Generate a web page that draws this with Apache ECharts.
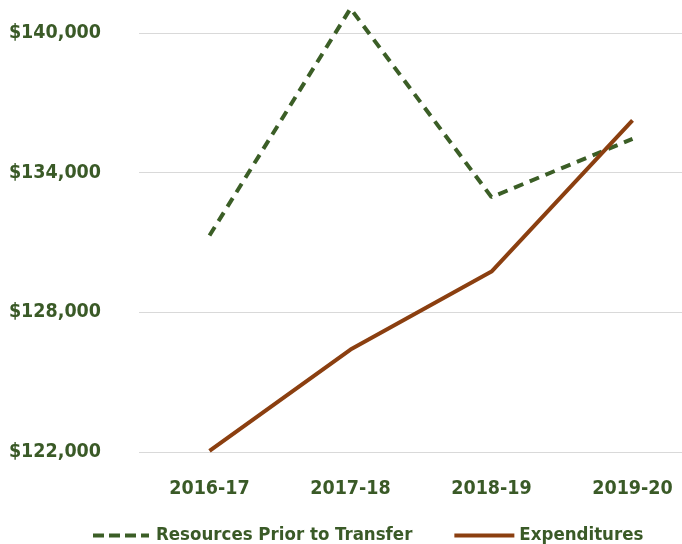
<!DOCTYPE html>
<html>
<head>
<meta charset="utf-8">
<script src="https://cdn.jsdelivr.net/npm/echarts@6/dist/echarts.min.js"></script>
<style>html,body{margin:0;padding:0;background:#fff}#c{width:682px;height:544px}</style>
</head>
<body>
<div id="c"></div>
<script>
const categories = ['2016-17', '2017-18', '2018-19', '2019-20'];
const resources = [131300, 141050, 132950, 135450];
const expenditures = [122050, 126400, 129750, 136250];
const yTicks = [122000, 128000, 134000, 140000];

const FONT = "'Liberation Sans Narrow', 'DejaVu Sans Condensed', sans-serif";
const TXT = '#3A5A27';
const chart = echarts.init(document.getElementById('c'));
chart.setOption({
  animation: false,
  backgroundColor: '#fff',
  grid: { left: 139, width: 564, top: 33, bottom: 92, outerBoundsMode: 'none', containLabel: false },
  legend: {
    top: 521,
    left: 88,
    itemWidth: 60,
    itemHeight: 4,
    itemGap: 42,
    textStyle: { fontFamily: FONT, fontWeight: 'bold', fontSize: 18.5, color: TXT },
    data: [
      { name: 'Resources Prior to Transfer', icon: 'path://M0,0 L11,0 L11,4 L0,4 Z M16,0 L27,0 L27,4 L16,4 Z M32,0 L43,0 L43,4 L32,4 Z M48,0 L56,0 L56,4 L48,4 Z' },
      { name: 'Expenditures', icon: 'rect' }
    ]
  },
  xAxis: {
    type: 'category',
    data: categories,
    boundaryGap: true,
    axisLine: { show: false },
    axisTick: { show: false },
    axisLabel: { fontFamily: FONT, fontWeight: 'bold', fontSize: 19.5, color: TXT, margin: 27 }
  },
  yAxis: {
    type: 'value',
    min: yTicks[0],
    max: yTicks[yTicks.length - 1],
    interval: 6000,
    axisLine: { show: false },
    axisTick: { show: false },
    splitLine: { lineStyle: { color: '#D9D9D9', width: 1 } },
    axisLabel: {
      fontFamily: FONT, fontWeight: 'bold', fontSize: 19.5, color: TXT, margin: 38,
      formatter: v => '$' + v.toLocaleString('en-US')
    }
  },
  series: [
    {
      name: 'Resources Prior to Transfer',
      type: 'line',
      data: resources,
      clip: false,
      symbol: 'none',
      lineStyle: { color: '#3B5E26', width: 4, type: [10, 7] },
      itemStyle: { color: '#3B5E26' }
    },
    {
      name: 'Expenditures',
      type: 'line',
      data: expenditures,
      clip: false,
      symbol: 'none',
      lineStyle: { color: '#8B3F10', width: 4 },
      itemStyle: { color: '#8B3F10' }
    }
  ]
});
</script>
</body>
</html>
